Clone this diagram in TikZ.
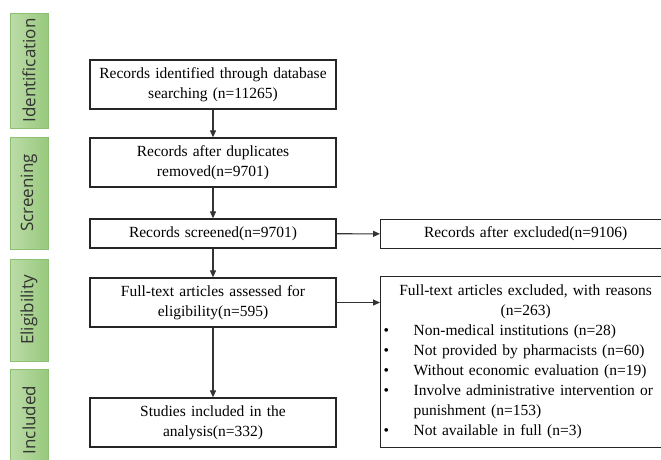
\documentclass[tikz,border=0pt]{standalone}
\usepackage{fontspec}
\setmainfont{Liberation Serif}
\newfontfamily\stagefont{Open Sans}
\usetikzlibrary{arrows.meta}
\definecolor{stagedark}{HTML}{98C97D}
\definecolor{stagelight}{HTML}{BCDCA8}
\definecolor{stageedge}{HTML}{8CC072}
\definecolor{stagetext}{HTML}{333333}
\begin{document}
\begin{tikzpicture}[x=1pt,y=-1pt,
  flowbox/.style={draw=black!85, line width=1.3pt, fill=white, align=center,
    font=\fontsize{15.5}{20}\selectfont, inner sep=0pt, text width=240pt,
    minimum width=246pt, minimum height=49pt},
  sidebox/.style={draw=black!85, line width=1.3pt, fill=white,
    font=\fontsize{15.5}{20}\selectfont, inner xsep=1pt, inner ysep=0pt,
    minimum width=290pt, anchor=north west},
  stage/.style={draw=stageedge, line width=0.8pt, left color=stagelight, right color=stagedark,
    rotate=90, minimum height=38pt, inner sep=0pt,
    font=\stagefont\fontsize{17}{20}\selectfont, text=stagetext},
  conn/.style={draw=black!80, line width=1.1pt, -{Triangle[length=7pt,width=6pt]}}
]
\useasboundingbox (0,0) rectangle (661,459);
\begin{scope}
\clip (0,0) rectangle (661,459);
% stage labels
\node[stage, minimum width=115pt] (sid) at (29,70.5) {Identification};
\node[stage, minimum width=112pt] (ssc) at (29,193) {Screening};
\node[stage, minimum width=102pt] (sel) at (29,310) {Eligibility};
\node[stage, minimum width=102pt] (sin) at (29,420) {Included};
% main boxes
\node[flowbox] (b1) at (213,84.5) {Records identified through database\\searching (n=11265)};
\node[flowbox] (b2) at (213,162.5) {Records after duplicates\\removed(n=9701)};
\node[flowbox, minimum height=29pt] (b3) at (213,233.5) {Records screened(n=9701)};
\node[flowbox] (b4) at (213,302.5) {Full-text articles assessed for\\eligibility(n=595)};
\node[flowbox] (b5) at (213,422.5) {Studies included in the\\analysis(n=332)};
% side boxes
\node[sidebox, minimum height=29pt, text width=288pt, align=center] (r1) at (380,219)
  {Records after excluded(n=9106)};
\node[sidebox, minimum height=171pt, text width=288pt, align=left] (r2) at (380,276)
  {\makebox[288pt]{Full-text articles excluded, with reasons}\\
   \makebox[288pt]{(n=263)}\\
   \makebox[32pt][l]{\hspace*{2pt}\textbullet}Non-medical institutions (n=28)\\
   \makebox[32pt][l]{\hspace*{2pt}\textbullet}Not provided by pharmacists (n=60)\\
   \makebox[32pt][l]{\hspace*{2pt}\textbullet}Without economic evaluation (n=19)\\
   \makebox[32pt][l]{\hspace*{2pt}\textbullet}Involve administrative intervention or\\
   \hspace*{32pt}punishment (n=153)\\
   \makebox[32pt][l]{\hspace*{2pt}\textbullet}Not available in full (n=3)};
% connectors
\draw[conn] (b1) -- (b2);
\draw[conn] (b2) -- (b3);
\draw[conn] (b3) -- (b4);
\draw[conn] (b4) -- (b5);
\draw[conn] (b3) -- (r1);
\draw[conn] (b4.east) -- (b4.east -| r2.west);
\end{scope}
\end{tikzpicture}
\end{document}
